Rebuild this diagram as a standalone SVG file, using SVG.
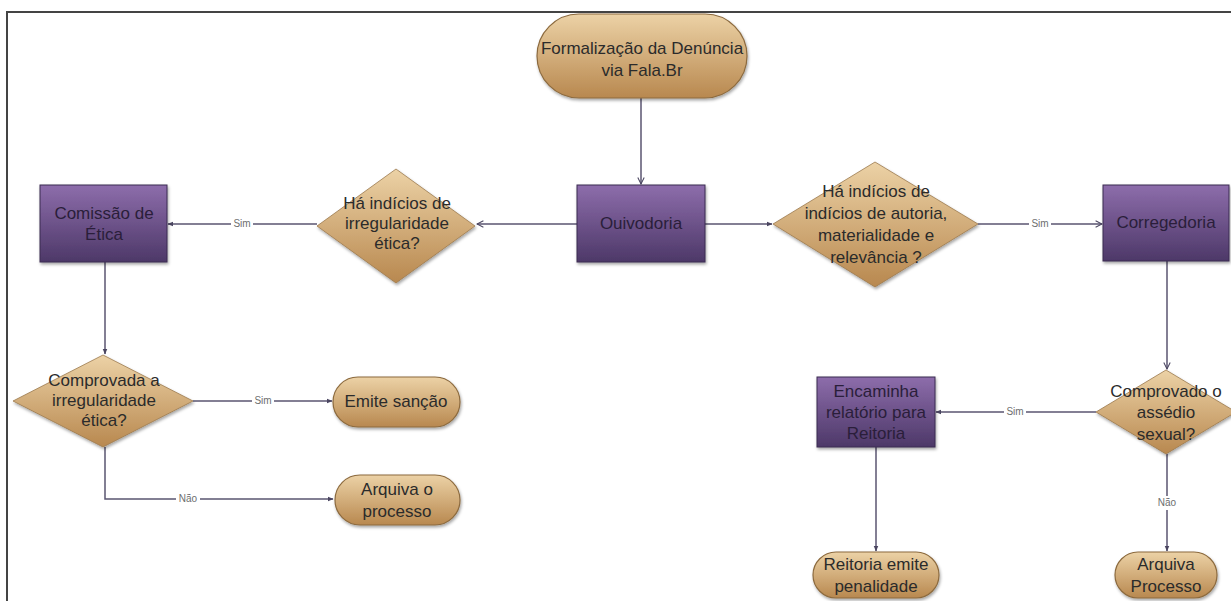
<svg xmlns="http://www.w3.org/2000/svg" width="1231" height="601" viewBox="0 0 1231 601">
<defs>
<linearGradient id="gPurple" x1="0" y1="0" x2="0" y2="1">
<stop offset="0" stop-color="#8d6dab"/>
<stop offset="1" stop-color="#4d3868"/>
</linearGradient>
<linearGradient id="gTan" x1="0" y1="0" x2="0" y2="1">
<stop offset="0" stop-color="#ecd2a6"/>
<stop offset="1" stop-color="#b8884f"/>
</linearGradient>
<filter id="sh" x="-10%" y="-10%" width="130%" height="140%">
<feDropShadow dx="1" dy="2" stdDeviation="1.5" flood-color="#000" flood-opacity="0.35"/>
</filter>
<marker id="aF" viewBox="0 0 10 10" refX="9" refY="5" markerWidth="6" markerHeight="6" orient="auto" markerUnits="userSpaceOnUse">
<path d="M0,1 L10,5 L0,9 z" fill="#4a4560"/>
</marker>
<marker id="aO" viewBox="0 0 10 10" refX="9" refY="5" markerWidth="8" markerHeight="8" orient="auto" markerUnits="userSpaceOnUse">
<path d="M1,1 L9,5 L1,9" fill="none" stroke="#4a4560" stroke-width="1.3"/>
</marker>
<style>
.frame{fill:none;stroke:#444;stroke-width:2}
.proc{fill:url(#gPurple);stroke:#3b2b50;stroke-width:1;filter:url(#sh)}
.term{fill:url(#gTan);stroke:#8c6a3e;stroke-width:1.2;filter:url(#sh)}
.dec{fill:url(#gTan);stroke:#9c7a4e;stroke-width:0.8;filter:url(#sh)}
.pt{font-family:"Liberation Sans",Arial,sans-serif;font-size:17px;fill:#2a1e3a;text-anchor:middle}
.tt{font-family:"Liberation Sans",Arial,sans-serif;font-size:17px;fill:#2b2b2b;text-anchor:middle}
.ln{fill:none;stroke:#5a5570;stroke-width:1.5}
.lb{font-family:"Liberation Sans",Arial,sans-serif;font-size:10px;fill:#6e6e6e;text-anchor:middle}
.lbg{fill:#fff}
</style>
</defs>
<rect width="1231" height="601" fill="#fff"/>
<path class="frame" d="M7,601 L7,12 L1231,12"/>

<g id="connectors">
<path class="ln" d="M641,98 L641,184" marker-end="url(#aO)"/>
<path class="ln" d="M577,224 L477,224" marker-end="url(#aO)"/>
<path class="ln" d="M705,224 L772,224" marker-end="url(#aF)"/>
<path class="ln" d="M317,224 L168,224" marker-end="url(#aF)"/>
<path class="ln" d="M978,224 L1102,224" marker-end="url(#aO)"/>
<path class="ln" d="M105,262 L105,354" marker-end="url(#aF)"/>
<path class="ln" d="M193,401 L332,401" marker-end="url(#aF)"/>
<path class="ln" d="M105,447 L105,499 L333,499" marker-end="url(#aF)"/>
<path class="ln" d="M1167,261 L1167,369" marker-end="url(#aO)"/>
<path class="ln" d="M1096,412 L936,412" marker-end="url(#aF)"/>
<path class="ln" d="M876,447 L876,551" marker-end="url(#aF)"/>
<path class="ln" d="M1167,454 L1167,551" marker-end="url(#aF)"/>
<rect class="lbg" x="231" y="218" width="22" height="12"/>
<text class="lb" x="242" y="227">Sim</text>
<rect class="lbg" x="1029" y="218" width="22" height="12"/>
<text class="lb" x="1040" y="227">Sim</text>
<rect class="lbg" x="252" y="395" width="22" height="12"/>
<text class="lb" x="263" y="404">Sim</text>
<rect class="lbg" x="176" y="493" width="24" height="12"/>
<text class="lb" x="188" y="502">Não</text>
<rect class="lbg" x="1004" y="406" width="22" height="12"/>
<text class="lb" x="1015" y="415">Sim</text>
<rect class="lbg" x="1155" y="496" width="24" height="14"/>
<text class="lb" x="1167" y="506">Não</text>
</g>

<g id="n-start">
<rect class="term" x="537" y="14" width="210" height="84" rx="42"/>
<text class="tt" x="642" y="54">Formalização da Denúncia</text>
<text class="tt" x="642" y="76">via Fala.Br</text>
</g>

<g id="n-ouvidoria">
<rect class="proc" x="577" y="185" width="128" height="77"/>
<text class="pt" x="641" y="229">Ouivodoria</text>
</g>

<g id="n-dec-etica">
<polygon class="dec" points="396,169 475,226 396,283 317,226"/>
<text class="tt" x="397" y="209">Há indícios de</text>
<text class="tt" x="397" y="229">irregularidade</text>
<text class="tt" x="397" y="249">ética?</text>
</g>

<g id="n-comissao">
<rect class="proc" x="40" y="185" width="127" height="77"/>
<text class="pt" x="104" y="219">Comissão de</text>
<text class="pt" x="104" y="240">Ética</text>
</g>

<g id="n-dec-autoria">
<polygon class="dec" points="875,162 978,224 875,287 773,224"/>
<text class="tt" x="876" y="197">Há indícios de</text>
<text class="tt" x="876" y="219">indícios de autoria,</text>
<text class="tt" x="876" y="241">materialidade e</text>
<text class="tt" x="876" y="263">relevância ?</text>
</g>

<g id="n-corregedoria">
<rect class="proc" x="1103" y="185" width="126" height="76"/>
<text class="pt" x="1166" y="228">Corregedoria</text>
</g>

<g id="n-dec-comprovada">
<polygon class="dec" points="103,355 193,401 103,447 13,401"/>
<text class="tt" x="104" y="386">Comprovada a</text>
<text class="tt" x="104" y="406">irregularidade</text>
<text class="tt" x="104" y="426">ética?</text>
</g>

<g id="n-emite">
<rect class="term" x="333" y="377" width="127" height="50" rx="25"/>
<text class="tt" x="396" y="407">Emite sanção</text>
</g>

<g id="n-arquiva1">
<rect class="term" x="335" y="475" width="125" height="50" rx="25"/>
<text class="tt" x="397" y="495">Arquiva o</text>
<text class="tt" x="397" y="517">processo</text>
</g>

<g id="n-dec-assedio">
<polygon class="dec" points="1166,370 1236,412 1166,454 1096,412"/>
<text class="tt" x="1166" y="397">Comprovado o</text>
<text class="tt" x="1166" y="418">assédio</text>
<text class="tt" x="1166" y="440">sexual?</text>
</g>

<g id="n-encaminha">
<rect class="proc" x="817" y="377" width="118" height="70"/>
<text class="pt" x="876" y="397">Encaminha</text>
<text class="pt" x="876" y="418">relatório para</text>
<text class="pt" x="876" y="439">Reitoria</text>
</g>

<g id="n-reitoria">
<rect class="term" x="813" y="552" width="126" height="46" rx="23"/>
<text class="tt" x="876" y="570">Reitoria emite</text>
<text class="tt" x="876" y="592">penalidade</text>
</g>

<g id="n-arquiva2">
<rect class="term" x="1115" y="552" width="102" height="46" rx="23"/>
<text class="tt" x="1166" y="570">Arquiva</text>
<text class="tt" x="1166" y="592">Processo</text>
</g>
</svg>
